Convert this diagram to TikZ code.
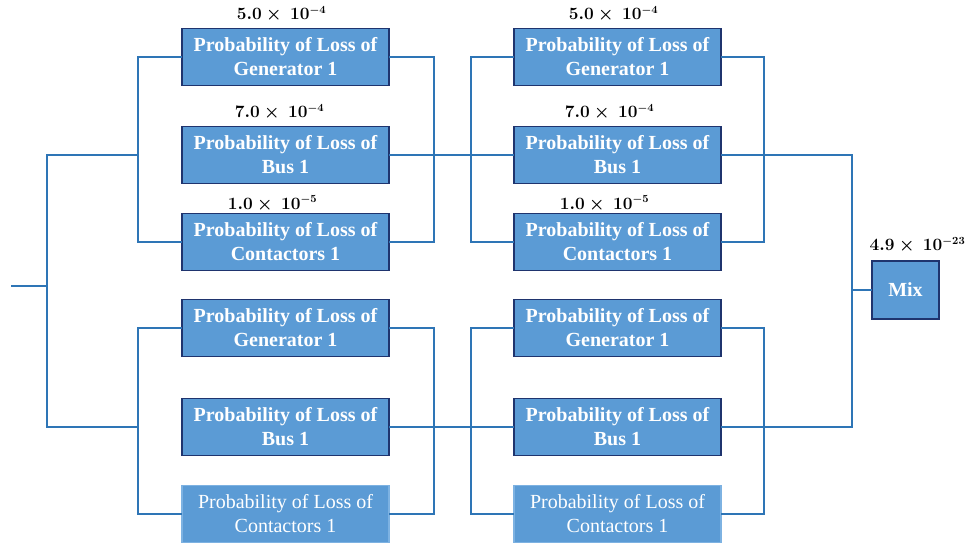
\documentclass[tikz,border=0pt]{standalone}
\usepackage{fontspec}
\setmainfont{Liberation Serif}
\usetikzlibrary{positioning,calc}

\definecolor{boxblue}{RGB}{91,155,213}
\definecolor{boxline}{RGB}{31,52,110}
\definecolor{faintline}{RGB}{125,178,226}
\definecolor{wireblue}{RGB}{46,117,182}

\begin{document}
\begin{tikzpicture}[%
    x=1pt, y=-1pt,              % one unit is one pixel of the sketch, y runs down
    node distance=30pt and 125pt, % Global setup of box spacing
    ]
% -------------------------------------------------
% Box styles
\tikzset{
  base/.style={draw=boxline, fill=boxblue, line width=1.4pt, align=center,
    text=white, inner sep=0pt, outer sep=0pt},
  proc/.style={base, minimum width=207pt, minimum height=57pt,
    font={\fontsize{20}{24}\selectfont\bfseries}},
  % the two last boxes are drawn lighter
  faint/.style={proc, draw=faintline, font={\fontsize{20}{24}\selectfont}},
  mixbox/.style={base, minimum width=67pt, minimum height=58pt,
    font={\fontsize{20}{24}\selectfont\bfseries}},
  % probability values above the boxes
  prob/.style={inner sep=0pt, font={\fontsize{16}{18}\selectfont\boldmath}},
  % -------------------------------------------------
  % Connector line style
  wire/.style={draw=wireblue, line width=1.8pt},
}
\useasboundingbox (0,0) rectangle (975,544);
% -------------------------------------------------
% First column of boxes
\node [proc] (g1) at (285.5,57) {Probability of Loss of\\Generator 1};
\node [proc, below=41pt of g1] (b1) {Probability of Loss of\\Bus 1};
\node [proc, below=30pt of b1] (c1) {Probability of Loss of\\Contactors 1};
\node [proc, below=29pt of c1] (g3) {Probability of Loss of\\Generator 1};
\node [proc, below=42pt of g3] (b3) {Probability of Loss of\\Bus 1};
\node [faint, below=30pt of b3] (c3) {Probability of Loss of\\Contactors 1};
% Second column, each box right of its partner
\node [proc, right=of g1] (g2) {Probability of Loss of\\Generator 1};
\node [proc, right=of b1] (b2) {Probability of Loss of\\Bus 1};
\node [proc, right=of c1] (c2) {Probability of Loss of\\Contactors 1};
\node [proc, right=of g3] (g4) {Probability of Loss of\\Generator 1};
\node [proc, right=of b3] (b4) {Probability of Loss of\\Bus 1};
\node [faint, right=of c3] (c4) {Probability of Loss of\\Contactors 1};
% The output box
\node [mixbox] (mix) at (905.5,290) {Mix};
% -------------------------------------------------
% Values
\node [prob, above=6pt of g1, xshift=-4pt] (pg1) {$5.0\times\ 10^{-4}$};
\node [prob, above=6pt of b1, xshift=-6pt] (pb1) {$7.0\times\ 10^{-4}$};
\node [prob, above=2pt of c1, xshift=-13pt] (pc1) {$1.0\times\ 10^{-5}$};
\node [prob, above=6pt of g2, xshift=-4pt] (pg2) {$5.0\times\ 10^{-4}$};
\node [prob, above=6pt of b2, xshift=-8pt] (pb2) {$7.0\times\ 10^{-4}$};
\node [prob, above=2pt of c2, xshift=-13pt] (pc2) {$1.0\times\ 10^{-5}$};
\node [prob, above=8pt of mix, xshift=12pt] (pmix) {$4.9\times\ 10^{-23}$};
% -------------------------------------------------
% Coordinates for the free end and the joints
\coordinate (in) at (11,286);
\coordinate (root) at (47,286);
\coordinate [left=20pt of mix.west] (mixjoin);
% -------------------------------------------------
% Parallel groups: a bar on each side
\draw [wire] (g1.west) -- ++(-44,0) coordinate (bl1) |- (c1.west);
\draw [wire] (g1.east) -- ++(45,0) |- (c1.east);
\draw [wire] (g3.west) -- ++(-44,0) coordinate (bl3) |- (c3.west);
\draw [wire] (g3.east) -- ++(45,0) |- (c3.east);
\draw [wire] (g2.west) -- ++(-43,0) |- (c2.west);
\draw [wire] (g2.east) -- ++(43,0) |- (c2.east);
\draw [wire] (g4.west) -- ++(-43,0) |- (c4.west);
\draw [wire] (g4.east) -- ++(43,0) |- (c4.east);
% Series links through the bus boxes
\draw [wire] (b1.east) -- (b2.west);
\draw [wire] (b3.east) -- (b4.west);
% -------------------------------------------------
% Input side
\draw [wire] (in) -- (root);
\draw [wire] (root) |- (bl1 |- b1.west);
\draw [wire] (root) |- (bl3 |- b3.west);
% Output side
\draw [wire] (b2.east) -| (mixjoin) |- (b4.east);
\draw [wire] (mixjoin) -- (mix.west);
\end{tikzpicture}
\end{document}
